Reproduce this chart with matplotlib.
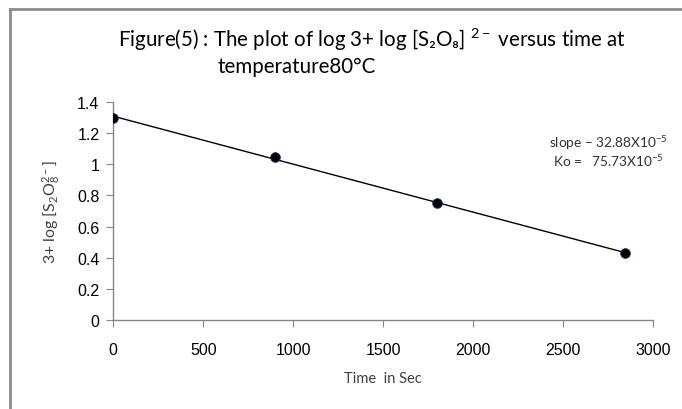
import numpy as np
import matplotlib
matplotlib.use("Agg")
import matplotlib.pyplot as plt

# readings from the figure
time_s = [0, 900, 1800, 2840]
log_conc = [1.30, 1.05, 0.75, 0.43]
xticks = [0, 500, 1000, 1500, 2000, 2500, 3000]
yticks = [0, 0.2, 0.4, 0.6, 0.8, 1.0, 1.2, 1.4]
ytick_labels = ["0", "0.2", "0.4", "0.6", "0.8", "1", "1.2", "1.4"]

plt.rcParams['font.family'] = ['Lato', 'DejaVu Sans']
plt.rcParams['mathtext.fontset'] = 'custom'
plt.rcParams['mathtext.rm'] = 'Lato'
plt.rcParams['mathtext.it'] = 'Lato'
plt.rcParams['mathtext.bf'] = 'Lato:bold'

GREY = "#868686"
W, H = 682, 410
fig = plt.figure(figsize=(W/100, H/100), dpi=100)
ax = fig.add_axes([113.3/W, 1-320.7/H, 540/W, 217.4/H])

# linear trendline (least squares, as Excel does)
k, b = np.polyfit(time_s, log_conc, 1)
xs = np.array([time_s[0], time_s[-1]])
ax.plot(xs, k*xs + b, color="black", lw=1.0, zorder=2)
ax.plot(time_s, log_conc, 'o', ms=7, mfc="black", mec="#1f3b6e", mew=0.6, zorder=3)

ax.set_xlim(0, 3000)
ax.set_ylim(0, 1.4)
ax.set_xticks(xticks)
ax.set_yticks(yticks)
ax.set_yticklabels(ytick_labels)
for lab in ax.get_xticklabels() + ax.get_yticklabels():
    lab.set_family(['Liberation Sans', 'DejaVu Sans'])
ax.tick_params(axis='both', direction='out', length=5, color=GREY, labelsize=11.5, labelcolor="black")
ax.tick_params(axis='x', pad=11)
ax.tick_params(axis='y', pad=5)
for s in ['top', 'right']:
    ax.spines[s].set_visible(False)
for s in ['left', 'bottom']:
    ax.spines[s].set_color(GREY)
    ax.spines[s].set_linewidth(1.0)

ax.set_xlabel("Time  in Sec", fontsize=10.5, color="#404040", labelpad=10)
ax.set_ylabel(r"3+ log [S$_2$O$_8^{2-}$]", fontsize=11.5, color="#404040", labelpad=11)

fig.text(118/W, 1-40/H, r"Figure(5) : The plot of log 3+ log [S₂O₈] $^{2-}$ versus time at",
         fontsize=14.8, ha='left', va='center', color="black")
fig.text(218/W, 1-67/H, "temperature80°C", fontsize=14.8, ha='left', va='center', color="black")

fig.text(668/W, 1-143/H, r"slope – 32.88X10$^{-5}$", fontsize=9.8, ha='right', va='center', color="#303030")
fig.text(664/W, 1-161/H, r"Ko =   75.73X10$^{-5}$", fontsize=9.8, ha='right', va='center', color="#303030")

# chart frame: only top and left edges visible in the crop
fig.add_artist(plt.Line2D([9.5/W, 9.5/W], [0, 1-10/H], transform=fig.transFigure, color="#8c8c8c", lw=2))
fig.add_artist(plt.Line2D([9.5/W, 1], [1-10/H, 1-10/H], transform=fig.transFigure, color="#8c8c8c", lw=2))

fig.savefig("out.png", dpi=100)
